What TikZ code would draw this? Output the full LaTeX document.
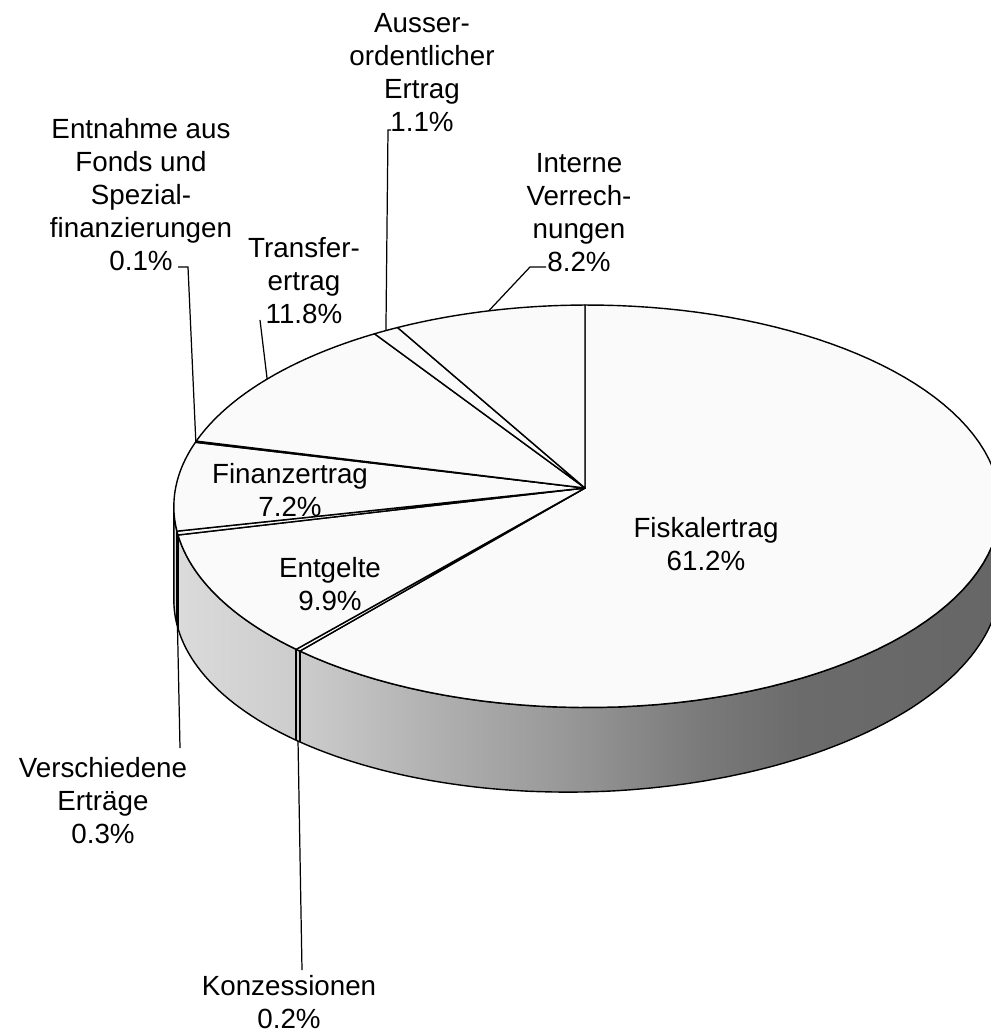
\documentclass[tikz,border=0pt]{standalone}
\usepackage{fontspec}
\setmainfont{Liberation Sans}
\usepackage{xcolor}
\usepackage{tikz}
\usetikzlibrary{calc}
\definecolor{topface}{gray}{0.98}
\pgfdeclarehorizontalshading{wallshade}{100bp}{rgb(0bp)=(0.86,0.86,0.86); rgb(25bp)=(0.86,0.86,0.86); rgb(32.6bp)=(0.80,0.80,0.80); rgb(41.7bp)=(0.68,0.68,0.68); rgb(48.4bp)=(0.60,0.60,0.60); rgb(56.8bp)=(0.48,0.48,0.48); rgb(62.9bp)=(0.42,0.42,0.42); rgb(75bp)=(0.40,0.40,0.40); rgb(100bp)=(0.40,0.40,0.40)}

\begin{document}
\begin{tikzpicture}[x=0.02cm,y=-0.02cm,
		declare function={den(\t)=1-0.005*cos(\t)+0.0908*sin(\t);
			px(\t)=(408.6*cos(\t)+53.14*sin(\t)+585)/den(\t);
			py(\t)=(-2.7*cos(\t)-155.29*sin(\t)+488)/den(\t);
			dep(\x)=97.6-0.0225*\x;},
		slice/.style={fill=topface,draw=black,line width=0.8pt,line join=round},
		wall/.style={shading=wallshade,draw=black,line width=0.8pt,line join=round},
		leader/.style={draw=black,line width=0.7pt},
		lbl/.style={anchor=north,align=center,inner sep=0pt,font=\fontsize{15.8pt}{18.8pt}\selectfont}]
		\useasboundingbox (0,0) rectangle (991,1032);
		\clip (0,0) rectangle (991,1032);
		\coordinate (O) at (585,488);
		
		% side of the pie
		\shadedraw[wall] plot[domain=186:355,samples=120,variable=\t] ({px(\t)},{py(\t)})
			-- plot[domain=0:169,samples=120,variable=\t] ({px(355-\t)},{py(355-\t)+dep(px(355-\t))}) -- cycle;
		\foreach \t in {192.24,193.32,229,229.68}
			\draw[line width=0.8pt] ({px(\t)},{py(\t)}) -- ({px(\t)},{py(\t)+dep(px(\t))});
		
		% top of the pie
		\filldraw[slice] (O) -- plot[domain=-130.32:90,samples=90,variable=\t] ({px(\t)},{py(\t)}) -- cycle;
		\filldraw[slice] (O) -- plot[domain=229:229.68,samples=3,variable=\t] ({px(\t)},{py(\t)}) -- cycle;
		\filldraw[slice] (O) -- plot[domain=193.32:229,samples=25,variable=\t] ({px(\t)},{py(\t)}) -- cycle;
		\filldraw[slice] (O) -- plot[domain=192.24:193.32,samples=3,variable=\t] ({px(\t)},{py(\t)}) -- cycle;
		\filldraw[slice] (O) -- plot[domain=166.32:192.24,samples=25,variable=\t] ({px(\t)},{py(\t)}) -- cycle;
		\filldraw[slice] (O) -- plot[domain=165.96:166.32,samples=3,variable=\t] ({px(\t)},{py(\t)}) -- cycle;
		\filldraw[slice] (O) -- plot[domain=123.48:165.96,samples=25,variable=\t] ({px(\t)},{py(\t)}) -- cycle;
		\filldraw[slice] (O) -- plot[domain=119.52:123.48,samples=5,variable=\t] ({px(\t)},{py(\t)}) -- cycle;
		\filldraw[slice] (O) -- plot[domain=90:119.52,samples=25,variable=\t] ({px(\t)},{py(\t)}) -- cycle;
		
		% labels
		\node[lbl] (fiskal) at (706,517) {Fiskalertrag\\61.2\%};
		\node[lbl] (entgelte) at (330,557) {Entgelte\\9.9\%};
		\node[lbl] (finanz) at (290,463) {Finanzertrag\\7.2\%};
		\node[lbl] (transfer) at (304,237) {Transfer-\\ertrag\\11.8\%};
		\node[lbl] (entnahme) at (141,118) {Entnahme aus\\Fonds und\\Spezial-\\finanzierungen\\0.1\%};
		\node[lbl] (ausser) at (422,13) {Ausser-\\ordentlicher\\Ertrag\\1.1\%};
		\node[lbl] (interne) at (579,153) {Interne\\Verrech-\\nungen\\8.2\%};
		\node[lbl] (versch) at (103,757) {Verschiedene\\Ertr\"age\\0.3\%};
		\node[lbl] (konz) at (289,975) {Konzessionen\\0.2\%};
		
		% leader lines
		\coordinate (interne-rim) at ({px(104.76)},{py(104.76)});
		\coordinate (interne-knee) at (530,267);
		\coordinate (interne-end) at (546,267);
		\coordinate (ausser-rim) at ({px(121.5)},{py(121.5)});
		\coordinate (ausser-knee) at (388,130);
		\coordinate (ausser-end) at (391,130);
		\coordinate (transfer-rim) at ({px(144.7)},{py(144.7)});
		\coordinate (transfer-end) at (260,320);
		\coordinate (entnahme-rim) at ({px(166.14)},{py(166.14)});
		\coordinate (entnahme-knee) at (188,267);
		\coordinate (entnahme-end) at (178,267);
		\coordinate (versch-rim) at ({px(192.78)},{py(192.78)+dep(px(192.78))});
		\coordinate (versch-end) at (180,748);
		\coordinate (konz-rim) at ({px(229.34)},{py(229.34)+dep(px(229.34))});
		\coordinate (konz-end) at (302,970);
		\draw[leader] (interne-rim) -- (interne-knee) -- (interne-end);
		\draw[leader] (ausser-rim) -- (ausser-knee) -- (ausser-end);
		\draw[leader] (transfer-rim) -- (transfer-end);
		\draw[leader] (entnahme-rim) -- (entnahme-knee) -- (entnahme-end);
		\draw[leader] (versch-rim) -- (versch-end);
		\draw[leader] (konz-rim) -- (konz-end);
	\end{tikzpicture}
\end{document}
